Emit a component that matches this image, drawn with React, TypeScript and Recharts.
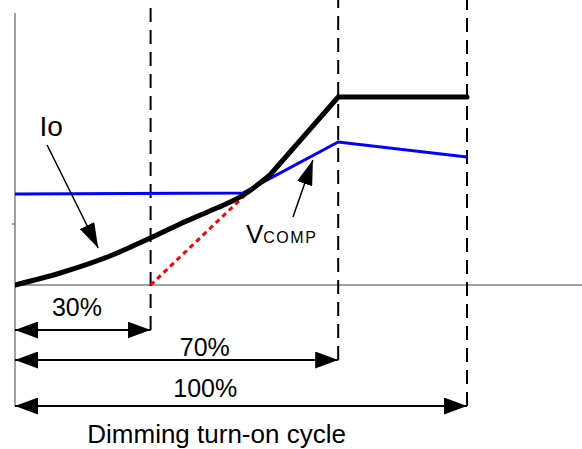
import * as React from "react"
import { ComposedChart, Line, ReferenceDot, ReferenceLine, XAxis, YAxis } from "recharts"

// x: fraction of the dimming turn-on cycle, y: arbitrary level units
const ioCurve = [
	{ x: 0, y: 0 },
	{ x: 0.1, y: 0.12 },
	{ x: 0.21, y: 0.29 },
	{ x: 0.299, y: 0.47 },
	{ x: 0.365, y: 0.61 },
	{ x: 0.431, y: 0.74 },
	{ x: 0.476, y: 0.83 },
	{ x: 0.509, y: 0.91 },
	{ x: 0.542, y: 1.02 },
	{ x: 0.564, y: 1.1 },
]
const ioRamp = [
	{ x: 0.564, y: 1.1 },
	{ x: 0.715, y: 1.88 },
	{ x: 1, y: 1.88 },
]
const vcomp = [
	{ x: 0, y: 0.91 },
	{ x: 0.504, y: 0.92 },
	{ x: 0.715, y: 1.43 },
	{ x: 1, y: 1.28 },
]
const extrapolation = [
	{ x: 0.3, y: 0 },
	{ x: 0.509, y: 0.9 },
]

// vertical dashed markers
const cycleMarks = [
	{ x: 0.3, y1: -0.45, y2: 2.77 },
	{ x: 0.715, y1: -0.75, y2: 2.85 },
	{ x: 1, y1: -1.21, y2: 2.85 },
]
// dimension arrows
const spans = [
	{ label: "30%", end: 0.3, y: -0.45, lx: 0.137, ly: -0.31 },
	{ label: "70%", end: 0.715, y: -0.75, lx: 0.42, ly: -0.71 },
	{ label: "100%", end: 1, y: -1.21, lx: 0.421, ly: -1.12 },
]

const FONT = "'Liberation Sans', Arial, sans-serif"

// eslint-disable-next-line @typescript-eslint/no-explicit-any
const arrowLine = (start: string | undefined, end: string | undefined, width: number) => (p: any) =>
	(
		<line
			x1={p.x1}
			y1={p.y1}
			x2={p.x2}
			y2={p.y2}
			stroke="#000"
			strokeWidth={width}
			markerStart={start}
			markerEnd={end}
		/>
	)

// eslint-disable-next-line @typescript-eslint/no-explicit-any
const textShape = (content: React.ReactNode, size: number, anchor: string) => (p: any) =>
	(
		<text x={p.cx} y={p.cy} fontSize={size} fontFamily={FONT} textAnchor={anchor} fill="#000">
			{content}
		</text>
	)

export default function App() {
	return (
		<div style={{ position: "absolute", left: 0, top: 0, background: "#fff" }}>
			<ComposedChart width={582} height={449} margin={{ top: 0, right: 0, bottom: 0, left: 15 }}>
				<defs>
					<marker
						id="dim"
						viewBox="0 0 23 17"
						refX={23}
						refY={8.5}
						markerWidth={23}
						markerHeight={17}
						markerUnits="userSpaceOnUse"
						orient="auto-start-reverse">
						<path d="M0,0 L23,8.5 L0,17 z" fill="#000" />
					</marker>
					<marker
						id="callout"
						viewBox="0 0 25 16"
						refX={25}
						refY={8}
						markerWidth={25}
						markerHeight={16}
						markerUnits="userSpaceOnUse"
						orient="auto">
						<path d="M0,0 L25,8 L0,16 z" fill="#000" />
					</marker>
				</defs>
				<XAxis type="number" dataKey="x" domain={[0, 1.2544]} allowDataOverflow hide />
				<YAxis type="number" dataKey="y" domain={[-1.64, 2.85]} allowDataOverflow hide />

				{/* axes */}
				<ReferenceLine
					segment={[{ x: 0, y: -1.21 }, { x: 0, y: 2.72 }]}
					stroke="#808080"
					strokeWidth={1.5}
					ifOverflow="visible"
				/>
				<ReferenceLine
					segment={[{ x: -0.0066, y: 0.61 }, { x: 0, y: 0.61 }]}
					stroke="#808080"
					strokeWidth={1.5}
					ifOverflow="visible"
				/>
				<ReferenceLine
					segment={[{ x: 0, y: 0 }, { x: 1.2544, y: 0 }]}
					stroke="#808080"
					strokeWidth={1.5}
					ifOverflow="visible"
				/>

				{cycleMarks.map((m) => (
					<ReferenceLine
						key={`mark-${m.x}`}
						segment={[{ x: m.x, y: m.y1 }, { x: m.x, y: m.y2 }]}
						stroke="#000"
						strokeWidth={2}
						strokeDasharray="14 8"
						ifOverflow="visible"
					/>
				))}

				{spans.map((s) => (
					<ReferenceLine
						key={`span-${s.label}`}
						segment={[{ x: 0, y: s.y }, { x: s.end, y: s.y }]}
						shape={arrowLine("url(#dim)", "url(#dim)", 2)}
						ifOverflow="visible"
					/>
				))}
				{spans.map((s) => (
					<ReferenceDot
						key={`lab-${s.label}`}
						x={s.lx}
						y={s.ly}
						r={0}
						shape={textShape(s.label, 25, "middle")}
						ifOverflow="visible"
					/>
				))}

				<Line
					data={vcomp}
					dataKey="y"
					type="linear"
					stroke="#0000ff"
					strokeWidth={3}
					dot={false}
					activeDot={false}
					isAnimationActive={false}
				/>
				<Line
					data={extrapolation}
					dataKey="y"
					type="linear"
					stroke="#ff0000"
					strokeWidth={3}
					strokeDasharray="5 4"
					dot={false}
					activeDot={false}
					isAnimationActive={false}
				/>
				<Line
					data={ioCurve}
					dataKey="y"
					type="monotone"
					stroke="#000"
					strokeWidth={5}
					strokeLinecap="round"
					dot={false}
					activeDot={false}
					isAnimationActive={false}
				/>
				<Line
					data={ioRamp}
					dataKey="y"
					type="linear"
					stroke="#000"
					strokeWidth={5}
					strokeLinecap="round"
					dot={false}
					activeDot={false}
					isAnimationActive={false}
				/>

				{/* callouts */}
				<ReferenceLine
					segment={[{ x: 0.071, y: 1.4 }, { x: 0.184, y: 0.37 }]}
					shape={arrowLine(undefined, "url(#callout)", 1.5)}
					ifOverflow="visible"
				/>
				<ReferenceLine
					segment={[{ x: 0.615, y: 0.68 }, { x: 0.659, y: 1.25 }]}
					shape={arrowLine(undefined, "url(#callout)", 1.5)}
					ifOverflow="visible"
				/>
				<ReferenceDot x={0.054} y={1.49} r={0} shape={textShape("Io", 28, "start")} ifOverflow="visible" />
				<ReferenceDot
					x={0.511}
					y={0.42}
					r={0}
					shape={textShape(
						<>
							<tspan fontSize={26}>V</tspan>
							<tspan fontSize={16} letterSpacing={1.5}>
								COMP
							</tspan>
						</>,
						26,
						"start"
					)}
					ifOverflow="visible"
				/>
				<ReferenceDot
					x={0.446}
					y={-1.58}
					r={0}
					shape={textShape("Dimming turn-on cycle", 26, "middle")}
					ifOverflow="visible"
				/>
			</ComposedChart>
		</div>
	)
}
